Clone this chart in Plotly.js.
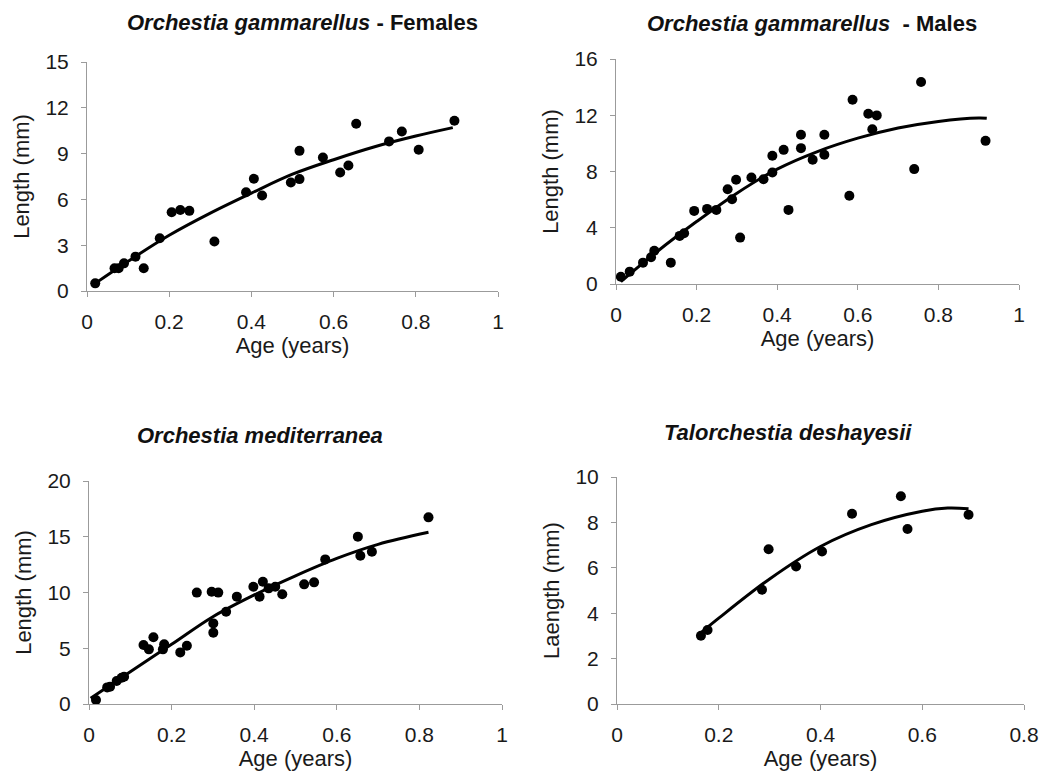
<!DOCTYPE html>
<html>
<head>
<meta charset="utf-8">
<script src="https://cdn.plot.ly/plotly-3.0.1.min.js"></script>
<style>html,body{margin:0;padding:0;background:#fff;}#chart{width:1053px;height:779px;}</style>
</head>
<body>
<div id="chart"></div>
<script>
// Orchestia gammarellus - Females
const femAge = [0.020,0.067,0.077,0.090,0.118,0.138,0.177,0.206,0.227,0.249,0.310,0.387,0.406,0.426,0.496,0.517,0.517,0.574,0.616,0.636,0.655,0.735,0.766,0.807,0.894];
const femLen = [0.50,1.49,1.49,1.81,2.25,1.49,3.45,5.16,5.31,5.25,3.24,6.47,7.35,6.25,7.11,7.33,9.18,8.75,7.76,8.22,10.96,9.80,10.45,9.25,11.15];
const femFitAge = [0.02,0.1,0.2,0.3,0.4,0.5,0.6,0.7,0.8,0.89];
const femFitLen = [0.50,1.95,3.65,5.10,6.41,7.65,8.60,9.45,10.15,10.70];

// Orchestia gammarellus - Males
const malAge = [0.012,0.034,0.067,0.087,0.095,0.136,0.158,0.169,0.194,0.226,0.249,0.277,0.288,0.298,0.308,0.336,0.366,0.388,0.388,0.416,0.428,0.459,0.459,0.488,0.517,0.517,0.579,0.587,0.626,0.647,0.636,0.740,0.757,0.917];
const malLen = [0.52,0.88,1.52,1.90,2.37,1.52,3.42,3.61,5.20,5.34,5.27,6.74,6.03,7.41,3.30,7.57,7.45,9.12,7.93,9.54,5.27,10.61,9.66,8.83,10.61,9.19,6.27,13.10,12.11,11.99,11.01,8.17,14.36,10.18];
const malFitAge = [0.012,0.1,0.2,0.3,0.4,0.5,0.6,0.7,0.8,0.9,0.92];
const malFitLen = [0.17,2.26,4.44,6.46,8.17,9.42,10.37,11.09,11.56,11.80,11.78];

// Orchestia mediterranea
const medAge = [0.017,0.044,0.051,0.067,0.079,0.085,0.132,0.145,0.156,0.179,0.182,0.221,0.237,0.261,0.297,0.313,0.301,0.301,0.332,0.358,0.398,0.413,0.421,0.435,0.451,0.468,0.521,0.545,0.572,0.651,0.657,0.685,0.822];
const medLen = [0.36,1.49,1.55,2.06,2.36,2.45,5.29,4.90,5.98,4.90,5.35,4.63,5.23,9.99,10.07,9.99,7.23,6.40,8.28,9.63,10.52,9.63,10.97,10.37,10.52,9.84,10.73,10.91,12.97,15.01,13.30,13.66,16.74];
const medFitAge = [0.004,0.1,0.2,0.3,0.4,0.5,0.6,0.7,0.822];
const medFitLen = [0.51,2.90,5.35,7.83,9.78,11.50,13.06,14.32,15.40];

// Talorchestia deshayesii
const talAge = [0.165,0.178,0.285,0.298,0.352,0.403,0.462,0.558,0.571,0.691];
const talLen = [3.01,3.26,5.03,6.82,6.06,6.72,8.38,9.15,7.71,8.34];
const talFitAge = [0.164,0.2,0.3,0.4,0.5,0.6,0.65,0.691];
const talFitLen = [3.12,3.78,5.51,6.94,7.90,8.49,8.63,8.60];

const panelTitles = [
  '<b><i>Orchestia gammarellus</i> - Females</b>',
  '<b><i>Orchestia gammarellus</i>  - Males</b>',
  '<b><i>Orchestia mediterranea</i></b>',
  '<b><i>Talorchestia deshayesii</i></b>'
];
const xTitle = 'Age (years)';
const yTitles = ['Length (mm)','Length (mm)','Length (mm)','Laength (mm)'];

const W = 1053, H = 779;
const FONT = '"Liberation Sans", Arial, sans-serif';
const axisColor = '#9b9b9b';
const textColor = '#1a1a1a';

function pts(x, y, xa, ya) {
  return {x: x, y: y, xaxis: xa, yaxis: ya, type: 'scatter', mode: 'markers',
    marker: {color: '#000', size: 10}, showlegend: false, cliponaxis: false, hoverinfo: 'x+y'};
}
function fit(x, y, xa, ya) {
  return {x: x, y: y, xaxis: xa, yaxis: ya, type: 'scatter', mode: 'lines',
    line: {color: '#000', width: 3, shape: 'spline', smoothing: 1}, showlegend: false, hoverinfo: 'skip'};
}

const data = [
  pts(femAge, femLen, 'x', 'y'), fit(femFitAge, femFitLen, 'x', 'y'),
  pts(malAge, malLen, 'x2', 'y2'), fit(malFitAge, malFitLen, 'x2', 'y2'),
  pts(medAge, medLen, 'x3', 'y3'), fit(medFitAge, medFitLen, 'x3', 'y3'),
  pts(talAge, talLen, 'x4', 'y4'), fit(talFitAge, talFitLen, 'x4', 'y4')
];

// pixel boxes of plot areas [left, right, top, bottom]
const boxes = [[87,498,62,291],[616,1019,59,284],[89,502,481,704],[617,1024,477,704]];
const xRanges = [[0,1],[0,1],[0,1],[0,0.8]];
const yRanges = [[0,15],[0,16],[0,20],[0,10]];
const yDticks = [3,4,5,2];

function xaxisDef(i) {
  const b = boxes[i];
  return {
    domain: [b[0]/W, b[1]/W], range: xRanges[i], dtick: 0.2, tick0: 0,
    anchor: i === 0 ? 'y' : 'y' + (i+1),
    showline: true, linecolor: axisColor, linewidth: 1, showgrid: false, zeroline: false,
    ticks: 'outside', ticklen: 5, tickcolor: axisColor, tickwidth: 1,
    ticklabelstandoff: 7,
    tickfont: {family: FONT, size: 21, color: textColor},
    title: {text: xTitle, font: {family: FONT, size: 22, color: textColor}, standoff: 2},
    fixedrange: true
  };
}
function yaxisDef(i) {
  const b = boxes[i];
  return {
    domain: [1 - b[3]/H, 1 - b[2]/H], range: yRanges[i], dtick: yDticks[i], tick0: 0,
    anchor: i === 0 ? 'x' : 'x' + (i+1),
    showline: true, linecolor: axisColor, linewidth: 1, showgrid: false, zeroline: false,
    ticks: 'outside', ticklen: 5, tickcolor: axisColor, tickwidth: 1,
    ticklabelstandoff: 8,
    tickfont: {family: FONT, size: 21, color: textColor},
    title: {text: yTitles[i], font: {family: FONT, size: 22, color: textColor}, standoff: 9},
    fixedrange: true
  };
}

const titlePos = [[302,22],[812,24],[260,435],[788,432]];
const annotations = panelTitles.map((t, i) => ({
  text: t, xref: 'paper', yref: 'paper', x: titlePos[i][0]/W, y: 1 - titlePos[i][1]/H,
  xanchor: 'center', yanchor: 'middle', showarrow: false,
  font: {family: FONT, size: 22, color: '#111'}
}));

const layout = {
  width: W, height: H, margin: {l: 0, r: 0, t: 0, b: 0},
  paper_bgcolor: '#fff', plot_bgcolor: '#fff',
  font: {family: FONT, color: textColor},
  showlegend: false,
  annotations: annotations
};
for (let i = 0; i < 4; i++) {
  const s = i === 0 ? '' : String(i+1);
  layout['xaxis' + s] = xaxisDef(i);
  layout['yaxis' + s] = yaxisDef(i);
}

Plotly.newPlot('chart', data, layout, {displayModeBar: false, staticPlot: true});
</script>
</body>
</html>
